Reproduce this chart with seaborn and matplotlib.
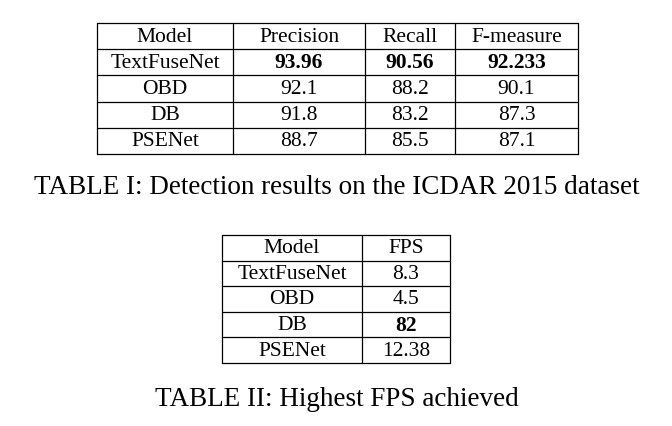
import matplotlib
matplotlib.use("Agg")
import matplotlib.pyplot as plt
import seaborn as sns

sns.set_theme(style="white")
plt.rcParams["font.family"] = "Liberation Serif"

models = ["TextFuseNet", "OBD", "DB", "PSENet"]
headers1 = ["Model", "Precision", "Recall", "F-measure"]
precision = ["93.96", "92.1", "91.8", "88.7"]
recall = ["90.56", "88.2", "83.2", "85.5"]
fmeasure = ["92.233", "90.1", "87.3", "87.1"]
headers2 = ["Model", "FPS"]
fps = ["8.3", "4.5", "82", "12.38"]
caption1 = "TABLE I: Detection results on the ICDAR 2015 dataset"
caption2 = "TABLE II: Highest FPS achieved"

fig = plt.figure(figsize=(6.72, 4.26), dpi=100)
ax = fig.add_axes([0, 0, 1, 1])
ax.set_xlim(0, 672); ax.set_ylim(426, 0); ax.axis("off")
FS = 15.5

def table(cols, ytop, rh, header, rows, bold):
    n = len(rows) + 1
    ys = [ytop + i * rh for i in range(n + 1)]
    for y in ys:
        ax.plot([cols[0], cols[-1]], [y, y], color="black", lw=0.9)
    for x in cols:
        ax.plot([x, x], [ys[0], ys[-1]], color="black", lw=0.9)
    allrows = [header] + rows
    for r, row in enumerate(allrows):
        for c, val in enumerate(row):
            fw = "bold" if (r - 1, c) in bold else "normal"
            ax.text((cols[c] + cols[c + 1]) / 2, (ys[r] + ys[r + 1]) / 2 + 1, val,
                    ha="center", va="center", fontsize=FS, fontweight=fw, color="black")

rows1 = [[m, p, r, f] for m, p, r, f in zip(models, precision, recall, fmeasure)]
table([97, 233, 365, 455, 578], 23, 26.2, headers1, rows1, {(0, 1), (0, 2), (0, 3)})
ax.text(337, 188, caption1, ha="center", va="center", fontsize=19.5, color="black")

rows2 = [[m, f] for m, f in zip(models, fps)]
table([222, 362, 450], 235, 25.6, headers2, rows2, {(2, 1)})
ax.text(337, 399, caption2, ha="center", va="center", fontsize=19.5, color="black")

fig.savefig("out.png", dpi=100, facecolor="white")
